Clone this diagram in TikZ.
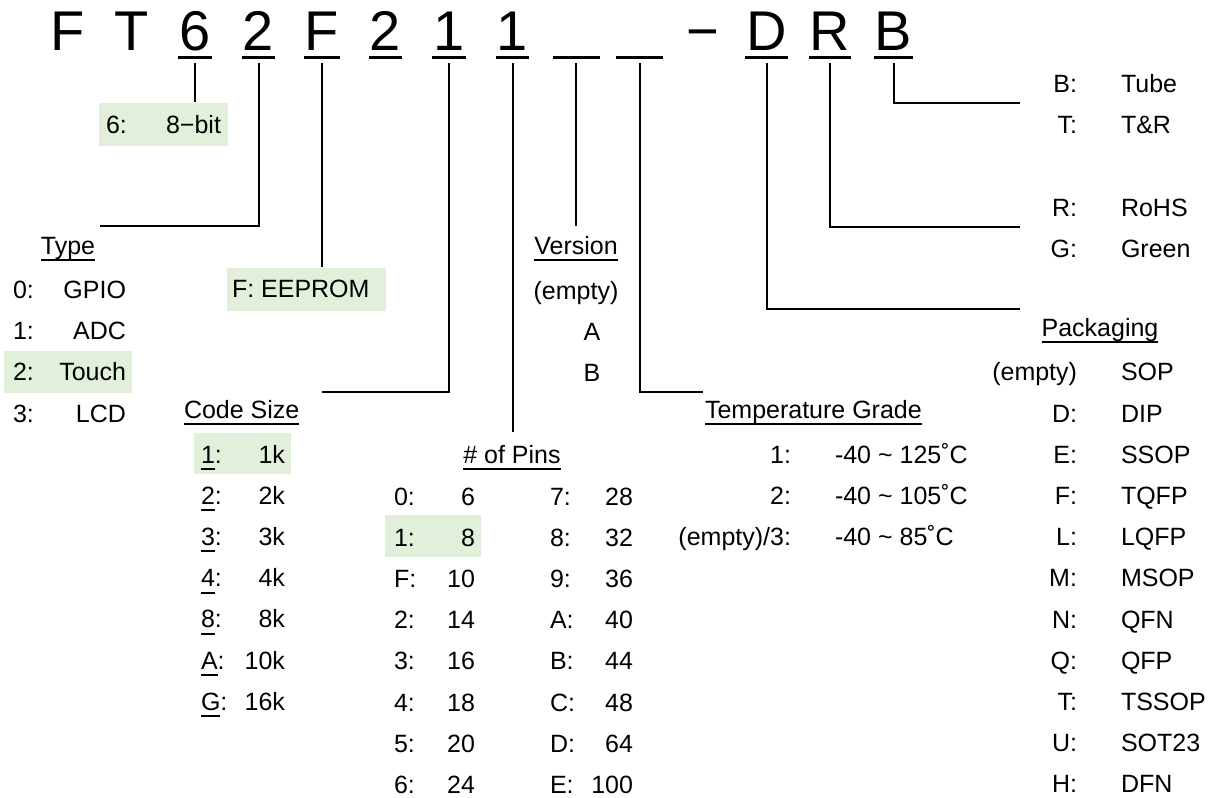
\documentclass[tikz,border=0pt]{standalone}
\usepackage{fontspec}
\setmainfont{Liberation Sans}
\usetikzlibrary{positioning}
\definecolor{hlgreen}{HTML}{E2EFDA}
\newcommand{\ulbox}[1]{\setbox0=\hbox{#1}\rlap{\rule[-3.5pt]{\wd0}{1pt}}\box0}
\newcommand{\bigch}{\fontsize{28}{30}\selectfont}
\newcommand{\smalltx}{\fontsize{12.5}{15}\selectfont}
\newcommand{\blankslot}{\rule{22.5pt}{0pt}}

\begin{document}
\begin{tikzpicture}[x=0.5pt, y=-0.5pt, line width=1pt,
  every node/.style={font=\smalltx, inner sep=0pt},
  code/.style={font=\bigch, anchor=base},
  key/.style={anchor=base east},
  val/.style={anchor=base west},
  hl/.style={fill=hlgreen, minimum height=21.5pt}]

\useasboundingbox (0,0) rectangle (1217,798);

\fill[hlgreen] (4,351) rectangle (132,393);
\fill[hlgreen] (194,433) rectangle (291,474);
\fill[hlgreen] (385,515) rectangle (481,557);

\foreach \ch [count=\i from 0] in {F,T,6,2,F,2,1,1,\blankslot,\blankslot,−,D,R,B}
  \node[code] (c\i) at ({68+63.5*\i},50) {\ch};
\foreach \i in {2,...,9,11,12,13}
  \draw[line width=1.5pt] ([yshift=-3.75pt]c\i.base west) -- ([yshift=-3.75pt]c\i.base east);

\node[hl, minimum width=64.5pt] (b8bit) at (163.5,124.5) {\makebox[57.5pt]{6:\hfill 8−bit}};
\node[hl, minimum width=79.5pt] (bEeprom) at (306.5,289) {\makebox[74.5pt][l]{F: EEPROM}};

\node[anchor=base] (typeHd) at (68,254) {\ulbox{Type}};
\foreach \k/\v [count=\r from 0] in {0:/GPIO,1:/ADC,2:/Touch,3:/LCD} {
  \node[val] (typeK\r) at (12,{298.5+41.2*\r}) {\k};
  \node[key] (typeV\r) at (127,{298.5+41.2*\r}) {\v};
}

\node[anchor=base west] (codeHd) at (183,418) {\ulbox{Code Size}};
\foreach \k/\v [count=\r from 0] in {1/1k,2/2k,3/3k,4/4k,8/8k,A/10k,G/16k} {
  \node[val] (codeK\r) at (200,{463+41.2*\r}) {\ulbox{\k}:};
  \node[key] (codeV\r) at (286,{463+41.2*\r}) {\v};
}

\node[anchor=base] (pinHd) at (512,463) {\ulbox{\# of Pins}};
\foreach \k/\v [count=\r from 0] in {0/6,1/8,F/10,2/14,3/16,4/18,5/20,6/24} {
  \node[val] (pinK\r) at (393,{505+41.2*\r}) {\k:};
  \node[key] (pinV\r) at (476,{505+41.2*\r}) {\v};
}
\foreach \k/\v [count=\r from 0] in {7/28,8/32,9/36,A/40,B/44,C/48,D/64,E/100} {
  \node[val] (pinKK\r) at (549,{505+41.2*\r}) {\k:};
  \node[key] (pinVV\r) at (634,{505+41.2*\r}) {\v};
}

\node[anchor=base] (verHd) at (576,254) {\ulbox{Version}};
\node[anchor=base] (verE) at (576,299) {(empty)};
\node[anchor=base] (verA) at (592,340) {A};
\node[anchor=base] (verB) at (592,381) {B};

\node[anchor=base west] (tempHd) at (704,418) {\ulbox{Temperature Grade}};
\node[key] (tempK1) at (792,463) {1:};
\node[val] (tempV1) at (834,463) {-40 \textasciitilde{} 125˚C};
\node[key] (tempK2) at (792,504) {2:};
\node[val] (tempV2) at (834,504) {-40 \textasciitilde{} 105˚C};
\node[key] (tempK3) at (792,545) {(empty)/3:};
\node[val] (tempV3) at (834,545) {-40 \textasciitilde{} 85˚C};

\node[key] (packB) at (1078,92.5) {B:};
\node[val] (packBv) at (1120,92.5) {Tube};
\node[key] (packT) at (1078,133.7) {T:};
\node[val] (packTv) at (1120,133.7) {T\&R};
\node[key] (rohsR) at (1078,216) {R:};
\node[val] (rohsRv) at (1120,216) {RoHS};
\node[key] (rohsG) at (1078,257) {G:};
\node[val] (rohsGv) at (1120,257) {Green};

\node[anchor=base] (pkgHd) at (1100,336) {\ulbox{Packaging}};
\foreach \k/\v [count=\r from 2] in {(empty)/SOP,D:/DIP,E:/SSOP,F:/TQFP,L:/LQFP,M:/MSOP,N:/QFN,Q:/QFP,T:/TSSOP,U:/SOT23,H:/DFN} {
  \node[key] (pkgK\r) at (1078,{298.5+41.2*\r}) {\k};
  \node[val] (pkgV\r) at (1120,{298.5+41.2*\r}) {\v};
}

\coordinate (typeEnd) at (100,226);
\coordinate (codeEnd) at (322,392);
\coordinate (tempEnd) at (703,392);
\coordinate (dEnd) at (1020,309);
\coordinate (rEnd) at (1020,227);
\coordinate (bEnd) at (1020,103);

\draw ([yshift=-6.5pt]c2.base) -- (c2 |- b8bit.north);
\draw ([yshift=-6.5pt]c3.base) |- (typeEnd);
\draw ([yshift=-6.5pt]c4.base) -- (c4 |- bEeprom.north);
\draw ([yshift=-6.5pt]c6.base) |- (codeEnd);
\draw ([yshift=-6.5pt]c7.base) -- ([yshift=6pt]pinHd.north -| c7);
\draw ([yshift=-6.5pt]c8.base) -- ([yshift=4.5pt]verHd.north -| c8);
\draw ([yshift=-6.5pt]c9.base) |- (tempEnd);
\draw ([yshift=-6.5pt]c11.base) |- (dEnd);
\draw ([yshift=-6.5pt]c12.base) |- (rEnd);
\draw ([yshift=-6.5pt]c13.base) |- (bEnd);

\end{tikzpicture}
\end{document}
